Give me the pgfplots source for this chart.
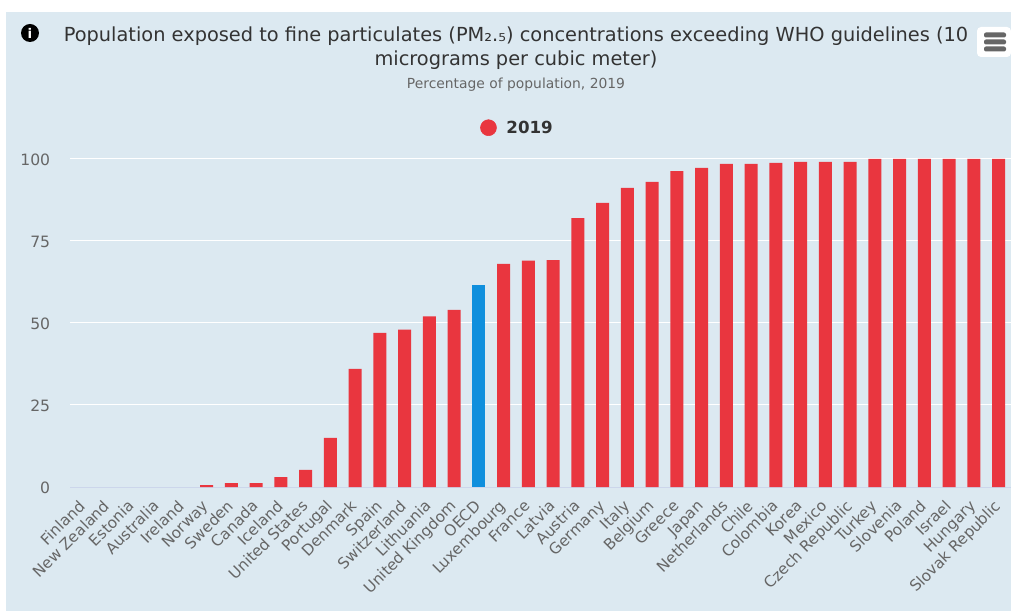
\documentclass[border=0pt]{standalone}
\usepackage{pgfplots}
\pgfplotsset{compat=1.18}
\usepackage{fontspec}
\setmainfont{DejaVu Sans}
\definecolor{panel}{HTML}{DCE9F1}
\definecolor{barred}{HTML}{E9363F}
\definecolor{barblue}{HTML}{0F8FDD}
\definecolor{titlegray}{HTML}{333333}
\definecolor{labelgray}{HTML}{666666}
\definecolor{baseline}{HTML}{CCD6EB}
\begin{document}
\begin{tikzpicture}[x=0.75pt,y=0.75pt]
  % page = reference pixels, origin at bottom left
  \path[use as bounding box] (0,0) rectangle (1011,611);
  \fill[white] (0,0) rectangle (1011,611);
  \fill[panel] (6,0) rectangle (1011,599);

  \begin{axis}[
      at={(52.8pt,93pt)},
      anchor=south west,
      scale only axis,
      width=705.45pt, height=246pt,
      xmin=-0.5, xmax=37.5,
      ymin=0, ymax=100,
      ybar, bar width=9.75pt,
      clip=false,
      axis lines*=left,
      y axis line style={draw=none},
      x axis line style={draw=baseline,line width=0.75pt,-},
      tick style={draw=none},
      ymajorgrids,
      grid style={white,line width=0.75pt},
      ytick={0,25,50,75,100},
      xtick={0,...,37},
      xticklabels={Finland,New Zealand,Estonia,Australia,Ireland,Norway,Sweden,Canada,Iceland,United States,Portugal,Denmark,Spain,Switzerland,Lithuania,United Kingdom,OECD,Luxembourg,France,Latvia,Austria,Germany,Italy,Belgium,Greece,Japan,Netherlands,Chile,Colombia,Korea,Mexico,Czech Republic,Turkey,Slovenia,Poland,Israel,Hungary,Slovak Republic},
      /pgf/number format/assume math mode=true,
      x tick label style={rotate=45,anchor=north east,font=\fontsize{11.5pt}{14pt}\selectfont,text=labelgray,inner sep=0pt,xshift=-5.9pt,yshift=-0.5pt},
      y tick label style={font=\fontsize{11.7pt}{14pt}\selectfont,text=labelgray,inner sep=0pt,xshift=-15pt,yshift=-0.75pt},
      legend style={at={(0.4757,1.095)},anchor=center,draw=none,fill=none,inner sep=0pt,
        font=\fontsize{12.5pt}{14pt}\selectfont\bfseries,text=titlegray},
    ]
    % zero values stay in the list, only the flat bars are dropped
    \addplot[ybar,bar shift=0pt,fill=barred,draw=none,forget plot,restrict y to domain=0.01:101] coordinates {
      (0,0) (1,0) (2,0) (3,0) (4,0) (5,0.6) (6,1.2) (7,1.2) (8,3) (9,5.2)
      (10,15) (11,36) (12,47) (13,48) (14,52) (15,54) (17,68) (18,69) (19,69.2)
      (20,82) (21,86.6) (22,91.2) (23,93) (24,96.3) (25,97.3) (26,98.5) (27,98.5)
      (28,98.8) (29,99.1) (30,99.1) (31,99.1) (32,100) (33,100) (34,100) (35,100) (36,100) (37,100)
    };
    \addplot[ybar,bar shift=0pt,fill=barblue,draw=none,forget plot] coordinates {(16,61.5)};
    % the empty path widens the image so the text sits further from the dot
    \addlegendimage{legend image code/.code={\fill[barred] (-3.4pt,0.1pt) circle (6pt); \path (7.85pt,0pt);}}
    \addlegendentry{2019}
  \end{axis}

  % header text
  \node[anchor=center,text=titlegray,font=\fontsize{14.52pt}{16pt}\selectfont] at (516,575) {Population exposed to fine particulates (PM₂.₅) concentrations exceeding WHO guidelines (10};
  \node[anchor=center,text=titlegray,font=\fontsize{14.52pt}{16pt}\selectfont] at (516,551) {micrograms per cubic meter)};
  \node[anchor=center,text=labelgray,font=\fontsize{10.4pt}{12pt}\selectfont] at (516,526) {Percentage of population, 2019};

  % info icon
  \fill[black] (30,578) circle (9);
  \node[text=white,font=\fontsize{10pt}{10pt}\selectfont\bfseries] at (30,578) {i};

  % menu button
  \fill[white,rounded corners=3pt] (977,554) rectangle (1011,584);
  \foreach \yy in {576,569,562}
    \fill[labelgray,rounded corners=1.5pt] (984,\yy-2.5) rectangle (1006,\yy+2.5);
\end{tikzpicture}
\end{document}
